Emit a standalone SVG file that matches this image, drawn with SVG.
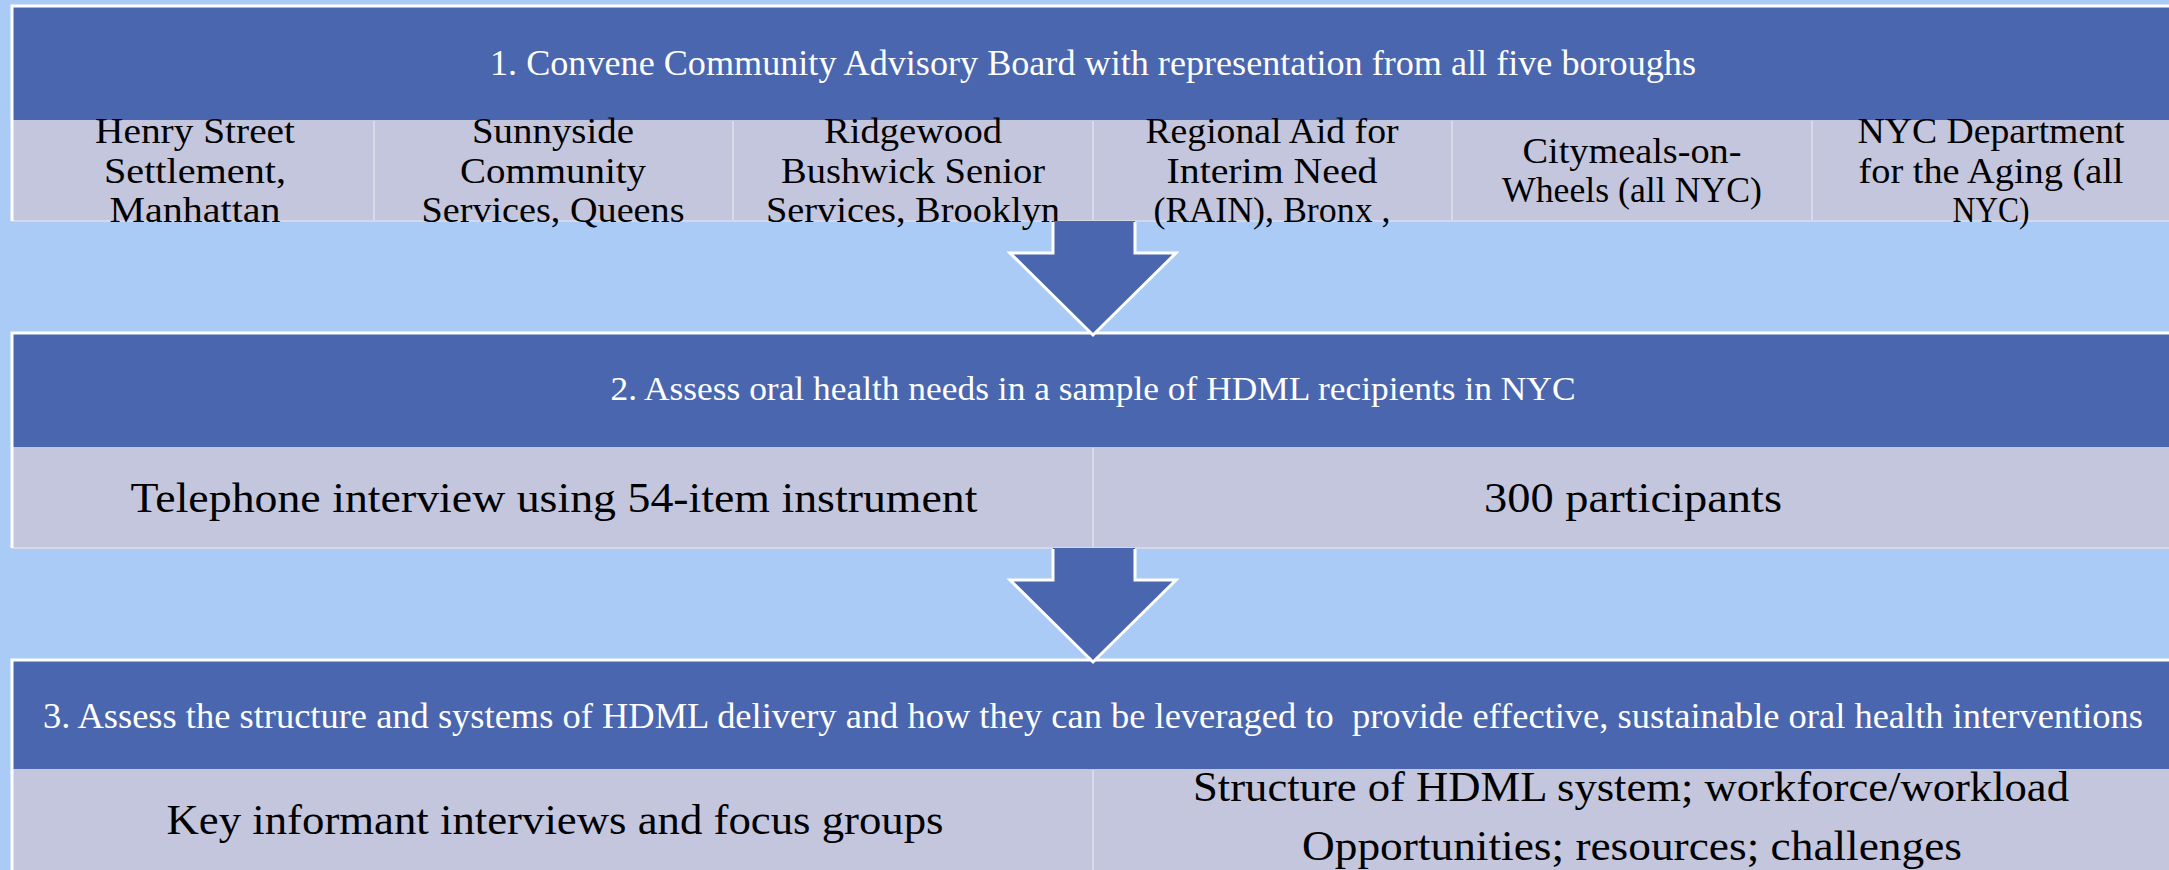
<svg xmlns="http://www.w3.org/2000/svg" width="2169" height="870" viewBox="0 0 2169 870">
<style>
.bg{fill:#ABCBF7}
.hd{fill:#4A66AE}
.cell{fill:#C3C6DD}
.edge{fill:none;stroke:#FFFFFF;stroke-width:3}
.div{stroke:#D8DAEA;stroke-width:2}
.low{stroke:#D6D8E9;stroke-width:2}
.ht{font-family:"Liberation Serif","Times New Roman",serif;fill:#FFFFFF;text-anchor:middle;white-space:pre}
.ct{font-family:"Liberation Serif","Times New Roman",serif;fill:#000000;text-anchor:middle;font-size:36px}
.bt{font-family:"Liberation Serif","Times New Roman",serif;fill:#000000;text-anchor:middle;font-size:43px}
.arr{fill:#4A66AE}
.arrs{fill:none;stroke:#FFFFFF;stroke-width:3;stroke-linejoin:miter}
</style>
<rect class="bg" x="0" y="0" width="2169" height="870"/>

<g id="box1">
<rect class="hd" x="12" y="6" width="2170" height="114"/>
<rect class="cell" x="12" y="120" width="2170" height="101"/>
<line class="low" x1="12" y1="221" x2="2169" y2="221"/>
<line class="div" x1="374" y1="121" x2="374" y2="220"/>
<line class="div" x1="733" y1="121" x2="733" y2="220"/>
<line class="div" x1="1093" y1="121" x2="1093" y2="220"/>
<line class="div" x1="1452" y1="121" x2="1452" y2="220"/>
<line class="div" x1="1812" y1="121" x2="1812" y2="220"/>
<polyline class="edge" points="12,221 12,6 2169,6"/>
<text class="ht" x="1093" y="75" font-size="36" textLength="1206" lengthAdjust="spacingAndGlyphs">1. Convene Community Advisory Board with representation from all five boroughs</text>
<text class="ct" x="195" y="143" textLength="200" lengthAdjust="spacingAndGlyphs">Henry Street</text>
<text class="ct" x="195" y="183" textLength="182" lengthAdjust="spacingAndGlyphs">Settlement,</text>
<text class="ct" x="195" y="222" textLength="171" lengthAdjust="spacingAndGlyphs">Manhattan</text>
<text class="ct" x="553" y="143" textLength="162" lengthAdjust="spacingAndGlyphs">Sunnyside</text>
<text class="ct" x="553" y="183" textLength="186" lengthAdjust="spacingAndGlyphs">Community</text>
<text class="ct" x="553" y="222" textLength="263" lengthAdjust="spacingAndGlyphs">Services, Queens</text>
<text class="ct" x="913" y="143" textLength="178" lengthAdjust="spacingAndGlyphs">Ridgewood</text>
<text class="ct" x="913" y="183" textLength="264" lengthAdjust="spacingAndGlyphs">Bushwick Senior</text>
<text class="ct" x="913" y="222" textLength="294" lengthAdjust="spacingAndGlyphs">Services, Brooklyn</text>
<text class="ct" x="1272" y="143" textLength="253" lengthAdjust="spacingAndGlyphs">Regional Aid for</text>
<text class="ct" x="1272" y="183" textLength="211" lengthAdjust="spacingAndGlyphs">Interim Need</text>
<text class="ct" x="1272" y="222" textLength="237" lengthAdjust="spacingAndGlyphs">(RAIN), Bronx ,</text>
<text class="ct" x="1632" y="163" textLength="219" lengthAdjust="spacingAndGlyphs">Citymeals-on-</text>
<text class="ct" x="1632" y="202" textLength="260" lengthAdjust="spacingAndGlyphs">Wheels (all NYC)</text>
<text class="ct" x="1991" y="143" textLength="267" lengthAdjust="spacingAndGlyphs">NYC Department</text>
<text class="ct" x="1991" y="183" textLength="265" lengthAdjust="spacingAndGlyphs">for the Aging (all</text>
<text class="ct" x="1991" y="222" textLength="77" lengthAdjust="spacingAndGlyphs">NYC)</text>
</g>

<g id="box2">
<rect class="hd" x="12" y="333" width="2170" height="114"/>
<rect class="cell" x="12" y="447" width="2170" height="101"/>
<line class="low" x1="12" y1="548" x2="2169" y2="548"/>
<line class="div" x1="1093" y1="448" x2="1093" y2="547"/>
<polyline class="edge" points="12,548 12,333 2169,333"/>
<text class="ht" x="1093" y="400" font-size="34" textLength="965" lengthAdjust="spacingAndGlyphs">2. Assess oral health needs in a sample of HDML recipients in NYC</text>
<text class="bt" x="554" y="512" textLength="847" lengthAdjust="spacingAndGlyphs">Telephone interview using 54-item instrument</text>
<text class="bt" x="1633" y="512" textLength="298" lengthAdjust="spacingAndGlyphs">300 participants</text>
</g>

<g id="box3">
<rect class="hd" x="12" y="660" width="2170" height="109"/>
<rect class="cell" x="12" y="769" width="2170" height="105"/>
<line class="div" x1="1093" y1="770" x2="1093" y2="870"/>
<polyline class="edge" points="12,872 12,660 2169,660"/>
<text class="ht" x="1093" y="728" font-size="35" textLength="2100" lengthAdjust="spacingAndGlyphs">3. Assess the structure and systems of HDML delivery and how they can be leveraged to  provide effective, sustainable oral health interventions</text>
<text class="bt" x="555" y="834" textLength="777" lengthAdjust="spacingAndGlyphs">Key informant interviews and focus groups</text>
<text class="bt" x="1631" y="801" textLength="876" lengthAdjust="spacingAndGlyphs">Structure of HDML system; workforce/workload</text>
<text class="bt" x="1632" y="860" textLength="660" lengthAdjust="spacingAndGlyphs">Opportunities; resources; challenges</text>
</g>

<g id="connectors">
<polygon class="arr" points="1053,221 1135,221 1135,253 1176,253 1093,335 1010,253 1053,253"/>
<polyline class="arrs" points="1053,222 1053,253 1010,253 1093,335 1176,253 1135,253 1135,222"/>
<polygon class="arr" points="1053,548 1135,548 1135,580 1176,580 1093,662 1010,580 1053,580"/>
<polyline class="arrs" points="1053,549 1053,580 1010,580 1093,662 1176,580 1135,580 1135,549"/>
</g>
</svg>
